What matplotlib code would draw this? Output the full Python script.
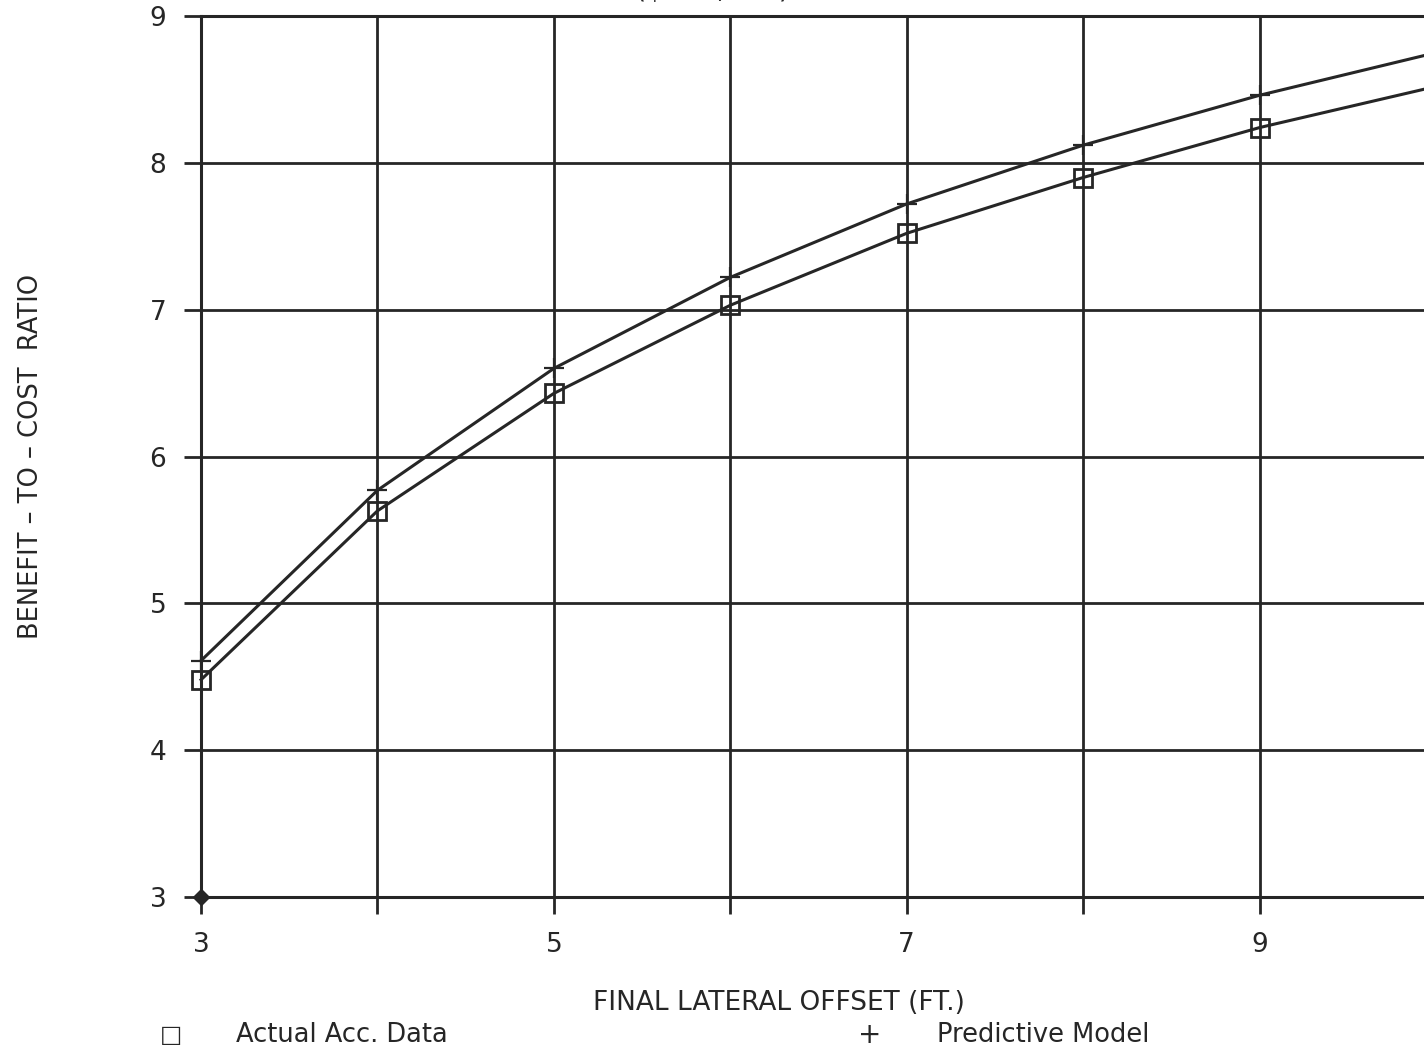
import matplotlib

matplotlib.use("Agg")
import matplotlib.pyplot as plt  # noqa: E402

offset_ft = [3, 4, 5, 6, 7, 8, 9, 10]
actual_acc = [4.48, 5.63, 6.43, 7.03, 7.52, 7.90, 8.24, 8.52]
predictive = [4.61, 5.77, 6.60, 7.22, 7.72, 8.12, 8.46, 8.75]
x_tick_labels = ["3", "", "5", "", "7", "", "9", ""]
y_ticks = [3, 4, 5, 6, 7, 8, 9]

INK = "#262626"

fig = plt.figure(figsize=(14.24, 10.51), dpi=100)
ax = fig.add_axes([0.1412, 0.1465, 0.8672, 0.8383])

ax.plot(offset_ft, actual_acc, "-", color=INK, lw=2.2, marker="s", ms=13,
        mfc="none", mec=INK, mew=2.0, clip_on=False, zorder=3)
ax.plot(offset_ft, predictive, "-", color=INK, lw=2.2, marker="+", ms=14,
        mew=1.6, clip_on=False, zorder=3)
# origin diamond as drawn by the plotter
ax.plot(offset_ft[0], y_ticks[0], "D", color=INK, ms=8, clip_on=False, zorder=4)

ax.set_xlim(offset_ft[0], offset_ft[-1])
ax.set_ylim(y_ticks[0], y_ticks[-1])
ax.set_xticks(offset_ft)
ax.set_xticklabels(x_tick_labels)
ax.set_yticks(y_ticks)
ax.grid(True, color=INK, lw=2.0)
ax.tick_params(direction="out", length=12, width=2.0, color=INK,
               labelsize=19, labelcolor=INK, pad=13)
for lab in ax.get_xticklabels() + ax.get_yticklabels():
    lab.set_fontweight("medium")
for s in ax.spines.values():
    s.set_color(INK)
    s.set_linewidth(2.2)
ax.set_axisbelow(True)

fig.text(0.022, 0.566, "BENEFIT \u2013 TO \u2013 COST  RATIO", rotation=90,
         ha="center", va="center", fontsize=18.5, color=INK)
fig.text(0.547, 0.046, "FINAL LATERAL OFFSET (FT.)", ha="center", va="center",
         fontsize=19, color=INK)

# legend row under the axis title
fig.text(0.12, 0.015, "\u25a1", ha="center", va="center", fontsize=17,
         color=INK, fontweight="bold")
fig.text(0.166, 0.015, "Actual Acc. Data", ha="left", va="center",
         fontsize=18.5, color=INK)
fig.text(0.611, 0.015, "+", ha="center", va="center", fontsize=20, color=INK)
fig.text(0.658, 0.015, "Predictive Model", ha="left", va="center",
         fontsize=18.5, color=INK)

# title is cut off by the top of the scan
fig.text(0.415, 0.996, "ALTERNATIVE #1 ($100,000)", ha="center", va="bottom",
         fontsize=20, color=INK)

fig.savefig("out.png", dpi=100, facecolor="white")
